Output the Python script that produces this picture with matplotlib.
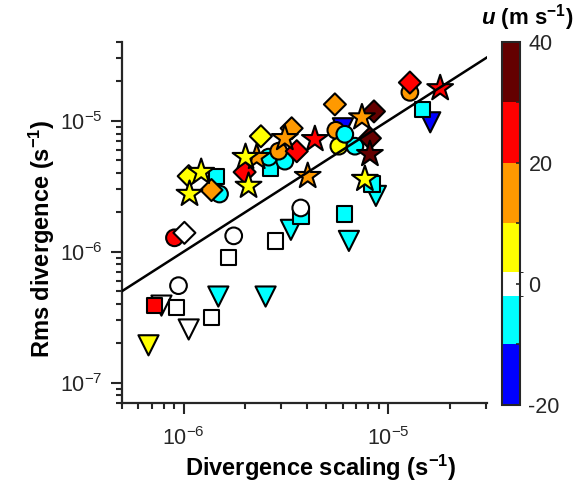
import matplotlib
matplotlib.use('Agg')
import matplotlib.pyplot as plt
from matplotlib.colors import ListedColormap, BoundaryNorm
from matplotlib.ticker import LogLocator, NullFormatter

plt.rcParams['font.family'] = 'Liberation Sans'
plt.rcParams['mathtext.fontset'] = 'custom'
plt.rcParams['mathtext.rm'] = 'Liberation Sans'
plt.rcParams['mathtext.bf'] = 'Liberation Sans:bold'
plt.rcParams['mathtext.it'] = 'Liberation Sans:italic:bold'

# wind classes (m s-1) and their colours
u_bounds = [-20, -10, -2, 2, 10, 20, 30, 40]
u_colors = ['#0000ff', '#00ffff', '#ffffff', '#ffff00', '#ff9900', '#ff0000', '#640000']

# divergence scaling / rms divergence in units of 1e-6 s-1, u in m s-1
tri_x = [0.674, 1.06, 0.78, 1.48, 2.52, 3.35, 6.44, 8.73, 16.1, 6.02]
tri_y = [0.193, 0.255, 0.388, 0.455, 0.455, 1.47, 1.21, 2.67, 9.74, 8.77]
tri_u = [5, 0, 0, -5, -5, -5, -5, -5, -15, -15]

sq_x = [0.924, 1.37, 1.66, 2.82, 0.721, 3.75, 6.15, 14.8, 2.67, 1.45, 8.35]
sq_y = [0.375, 0.315, 0.900, 1.21, 0.388, 1.85, 1.945, 12.2, 4.35, 3.78, 3.29]
sq_u = [0, 0, 0, 0, 25, -5, -5, -5, -5, -5, -5]

circ_x = [0.903, 0.945, 1.76, 3.745, 12.8, 5.56, 5.75, 6.89, 6.15, 3.13, 2.61, 1.50, 2.92]
circ_y = [1.278, 0.551, 1.323, 2.16, 16.5, 8.47, 6.40, 6.40, 7.89, 4.92, 5.28, 2.76, 5.86]
circ_u = [25, 0, 0, 0, 15, 15, 5, -5, -5, -5, -5, -5, 15]

dia_x = [1.01, 12.8, 5.50, 8.54, 8.16, 3.38, 3.58, 2.39, 1.99, 1.06, 1.37]
dia_y = [1.395, 19.6, 13.35, 11.8, 7.36, 8.77, 5.86, 7.62, 4.06, 3.78, 2.96]
dia_u = [0, 25, 15, 35, 35, 15, 25, 5, 25, 5, 15]

star_x = [18.0, 7.46, 8.16, 7.71, 4.39, 4.05, 3.13, 2.28, 2.01, 2.08, 1.22, 1.07]
star_y = [17.7, 10.6, 5.56, 3.59, 7.23, 3.78, 7.36, 5.28, 5.28, 3.18, 4.06, 2.76]
star_u = [25, 15, 35, 5, 25, 15, 15, 15, 5, 5, 5, 5]

xlim = (5e-7, 3.05e-5)
ylim = (7e-8, 4e-5)

cmap = ListedColormap(u_colors)
norm = BoundaryNorm(u_bounds, cmap.N)
grey = '#262626'

fig = plt.figure(figsize=(5.74, 4.87), dpi=100)
ax = fig.add_axes([0.2125, 0.1725, 0.6359, 0.7413])

groups = [('v', 14.5, tri_x, tri_y, tri_u),
          ('s', 11, sq_x, sq_y, sq_u),
          ('o', 12, circ_x, circ_y, circ_u),
          ('D', 11.2, dia_x, dia_y, dia_u),
          ('*', 19.5, star_x, star_y, star_u)]
for k, (m, size, xs, ys, us) in enumerate(groups):
    ax.scatter([v * 1e-6 for v in xs], [v * 1e-6 for v in ys], c=us, cmap=cmap, norm=norm,
               marker=m, s=size ** 2, edgecolors='k', linewidths=1.5, zorder=2 + k * 0.1)

# 1:1 line
ax.plot(xlim, xlim, color='k', lw=1.8, zorder=5)

ax.set_xscale('log')
ax.set_yscale('log')
ax.set_xlim(xlim)
ax.set_ylim(ylim)
for a in (ax.xaxis, ax.yaxis):
    a.set_major_locator(LogLocator(base=10))
    a.set_minor_locator(LogLocator(base=10, subs=range(2, 10)))
    a.set_minor_formatter(NullFormatter())
for s in ('top', 'right'):
    ax.spines[s].set_visible(False)
for s in ('left', 'bottom'):
    ax.spines[s].set_linewidth(1.6)
    ax.spines[s].set_color(grey)
ax.tick_params(which='major', direction='out', length=8, width=1.5, color=grey,
               labelsize=15.5, labelcolor=grey)
ax.tick_params(axis='x', which='major', pad=9)
ax.tick_params(axis='y', which='major', pad=6)
ax.tick_params(which='minor', direction='out', length=4.5, width=1.5, color=grey)

ax.set_xlabel('Divergence scaling (s$^{\\mathbf{-1}}$)', fontsize=17, fontweight='bold', va='center')
ax.set_ylabel('Rms divergence (s$^{\\mathbf{-1}}$)', fontsize=17, fontweight='bold', va='center')
ax.xaxis.set_label_coords(0.545, -0.18)
ax.yaxis.set_label_coords(-0.219, 0.456)

cax = fig.add_axes([0.8746, 0.1684, 0.0314, 0.7454])
cb = fig.colorbar(plt.cm.ScalarMappable(norm=norm, cmap=cmap), cax=cax,
                  spacing='proportional', ticks=[-20, -10, 0, 10, 20, 30, 40])
cb.ax.set_yticklabels(['-20', '', '0', '', '20', '', '40'])
cb.outline.set_linewidth(1.5)
cb.outline.set_edgecolor(grey)
cb.ax.tick_params(direction='in', length=3, width=1.2, color=grey, labelsize=15.5,
                  labelcolor=grey, pad=6)
fig.text(0.918, 0.963, '$u$ (m s$^{\\mathbf{-1}}$)', ha='center', va='center',
         fontsize=16, fontweight='bold')

fig.savefig('out.png', dpi=100)
